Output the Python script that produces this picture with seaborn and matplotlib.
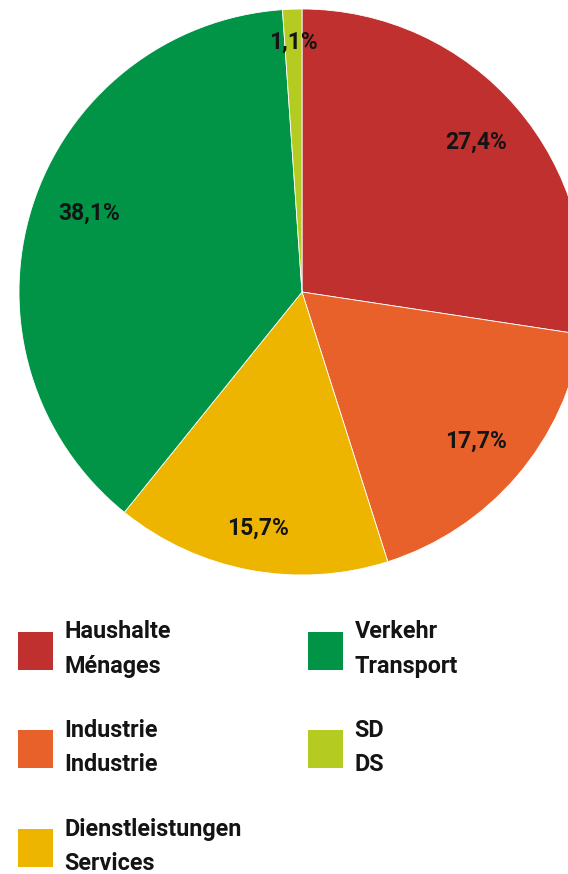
import matplotlib
matplotlib.use("Agg")
import matplotlib.pyplot as plt
import seaborn as sns

# data
labels_de = ["Haushalte", "Industrie", "Dienstleistungen", "Verkehr", "SD"]
labels_fr = ["Ménages", "Industrie", "Services", "Transport", "DS"]
shares = [27.4, 17.7, 15.7, 38.1, 1.1]
colors = ["#C0302E", "#E8612A", "#EDB500", "#019447", "#B4CC22"]

sns.set_theme(style="white")
plt.rcParams["font.family"] = ["Roboto", "DejaVu Sans"]
plt.rcParams["font.weight"] = "bold"

fig = plt.figure(figsize=(5.68, 8.74), dpi=100)
ax = fig.add_axes([19 / 568, 299 / 874, 566 / 568, 566 / 874])

wedges, texts, pcts = ax.pie(
    shares, colors=colors, startangle=90, counterclock=False, radius=1,
    autopct=lambda p: f"{p:.1f}%".replace(".", ","), pctdistance=0.81,
    wedgeprops=dict(edgecolor="white", linewidth=0.6),
    textprops=dict(fontsize=16.5, fontweight="bold", color="#141414"))
# some labels sit a bit further out in the original
for t, k in zip(pcts, [1.0, 1.0, 1.05, 1.0, 1.09]):
    x, y = t.get_position()
    t.set_position((x * k, y * k))
x, y = pcts[3].get_position()
pcts[3].set_position((x + 0.02, y + 0.035))
ax.set_xlim(-1, 1)
ax.set_ylim(-1, 1)
ax.set_aspect("equal")
ax.axis("off")
for w in wedges:
    w.set_clip_on(False)

legend_labels = [f"{d}\n{f}" for d, f in zip(labels_de, labels_fr)]
opts = dict(loc="upper left", frameon=False, fontsize=16.8,
            handlelength=1.5, handleheight=2.13, handletextpad=0.5,
            labelspacing=1.76, borderaxespad=0, borderpad=0)
leg1 = fig.legend(wedges[:3], legend_labels[:3],
                  bbox_to_anchor=(18 / 568, 1 - 620 / 874), **opts)
leg2 = fig.legend(wedges[3:], legend_labels[3:],
                  bbox_to_anchor=(308 / 568, 1 - 620 / 874), **opts)
for leg in (leg1, leg2):
    for h in leg.legend_handles:
        h.set_edgecolor("none")
    for t in leg.get_texts():
        t.set_linespacing(1.65)
        t.set_color("#141414")

fig.savefig("out.png", dpi=100)
